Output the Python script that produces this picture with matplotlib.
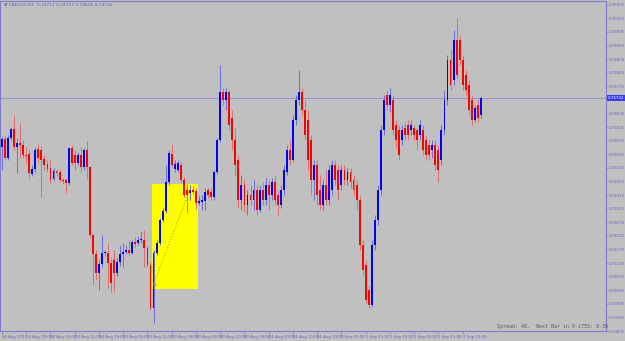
import numpy as np
import matplotlib.pyplot as plt
from matplotlib.patches import Rectangle

# CADCHF H1 bars
opens = [0.74552, 0.74581, 0.74512, 0.74585, 0.74618, 0.74552, 0.74567, 0.74559, 0.74523, 0.74526,
         0.74453, 0.74471, 0.74545, 0.74541, 0.74508, 0.74490, 0.74475, 0.74434, 0.74464, 0.74460,
         0.74431, 0.74431, 0.74420, 0.74548, 0.74523, 0.74493, 0.74523, 0.74478, 0.74541, 0.74478,
         0.74228, 0.74158, 0.74088, 0.74121, 0.74162, 0.74162, 0.74125, 0.74136, 0.74088, 0.74129,
         0.74158, 0.74166, 0.74173, 0.74162, 0.74202, 0.74199, 0.74210, 0.74210, 0.74180, 0.74118,
         0.73960, 0.74162, 0.74199, 0.74283, 0.74317, 0.74423, 0.74526, 0.74471, 0.74467, 0.74486,
         0.74431, 0.74394, 0.74383, 0.74394, 0.74390, 0.74346, 0.74350, 0.74353, 0.74394, 0.74386,
         0.74368, 0.74460, 0.74578, 0.74754, 0.74725, 0.74754, 0.74659, 0.74578, 0.74504, 0.74357,
         0.74412, 0.74339, 0.74375, 0.74357, 0.74394, 0.74320, 0.74394, 0.74357, 0.74412, 0.74375,
         0.74423, 0.74375, 0.74339, 0.74394, 0.74460, 0.74541, 0.74504, 0.74651, 0.74725, 0.74754,
         0.74688, 0.74651, 0.74578, 0.74431, 0.74486, 0.74394, 0.74339, 0.74412, 0.74357, 0.74394,
         0.74486, 0.74467, 0.74412, 0.74467, 0.74431, 0.74460, 0.74431, 0.74412, 0.74357, 0.74191,
         0.74118, 0.74026, 0.73971, 0.74191, 0.74283, 0.74394, 0.74615, 0.74743, 0.74707, 0.74725,
         0.74633, 0.74615, 0.74578, 0.74622, 0.74633, 0.74615, 0.74622, 0.74615, 0.74596, 0.74615,
         0.74578, 0.74559, 0.74541, 0.74559, 0.74541, 0.74504, 0.74615, 0.74725, 0.74872, 0.74799,
         0.74946, 0.74946, 0.74872, 0.74817, 0.74780, 0.74725, 0.74651, 0.74707, 0.74670]
highs = [0.74589, 0.74592, 0.74596, 0.74626, 0.74670, 0.74585, 0.74640, 0.74578, 0.74552, 0.74541,
         0.74486, 0.74552, 0.74563, 0.74556, 0.74523, 0.74504, 0.74504, 0.74475, 0.74471, 0.74467,
         0.74438, 0.74438, 0.74552, 0.74559, 0.74541, 0.74534, 0.74552, 0.74548, 0.74574, 0.74482,
         0.74232, 0.74173, 0.74136, 0.74228, 0.74173, 0.74199, 0.74144, 0.74173, 0.74144, 0.74191,
         0.74199, 0.74191, 0.74210, 0.74210, 0.74221, 0.74224, 0.74243, 0.74247, 0.74188, 0.74129,
         0.74173, 0.74210, 0.74291, 0.74328, 0.74486, 0.74541, 0.74563, 0.74504, 0.74504, 0.74497,
         0.74442, 0.74416, 0.74412, 0.74409, 0.74401, 0.74372, 0.74375, 0.74401, 0.74401, 0.74401,
         0.74467, 0.74585, 0.74854, 0.74769, 0.74769, 0.74762, 0.74688, 0.74622, 0.74523, 0.74449,
         0.74431, 0.74394, 0.74412, 0.74431, 0.74412, 0.74412, 0.74423, 0.74438, 0.74431, 0.74438,
         0.74449, 0.74394, 0.74412, 0.74486, 0.74559, 0.74578, 0.74670, 0.74743, 0.74835, 0.74769,
         0.74725, 0.74688, 0.74596, 0.74504, 0.74504, 0.74449, 0.74431, 0.74467, 0.74486, 0.74504,
         0.74504, 0.74486, 0.74486, 0.74486, 0.74475, 0.74475, 0.74449, 0.74431, 0.74375, 0.74210,
         0.74136, 0.74044, 0.74210, 0.74302, 0.74412, 0.74633, 0.74743, 0.74762, 0.74769, 0.74743,
         0.74651, 0.74633, 0.74633, 0.74644, 0.74651, 0.74651, 0.74633, 0.74622, 0.74651, 0.74633,
         0.74596, 0.74578, 0.74578, 0.74578, 0.74559, 0.74633, 0.74762, 0.74891, 0.74909, 0.74983,
         0.75027, 0.74964, 0.74891, 0.74835, 0.74799, 0.74743, 0.74707, 0.74725, 0.74740]
lows = [0.74467, 0.74504, 0.74504, 0.74578, 0.74541, 0.74456, 0.74512, 0.74512, 0.74493, 0.74434,
        0.74445, 0.74460, 0.74497, 0.74368, 0.74467, 0.74460, 0.74420, 0.74427, 0.74445, 0.74423,
        0.74416, 0.74383, 0.74412, 0.74486, 0.74467, 0.74486, 0.74460, 0.74467, 0.74434, 0.74221,
        0.74044, 0.74063, 0.74026, 0.74110, 0.74151, 0.74033, 0.74018, 0.74018, 0.74077, 0.74114,
        0.74110, 0.74158, 0.74155, 0.74158, 0.74184, 0.74191, 0.74199, 0.74110, 0.74110, 0.73952,
        0.73904, 0.74155, 0.74191, 0.74276, 0.74309, 0.74412, 0.74478, 0.74460, 0.74460, 0.74423,
        0.74368, 0.74309, 0.74357, 0.74379, 0.74324, 0.74339, 0.74320, 0.74320, 0.74364, 0.74357,
        0.74357, 0.74453, 0.74570, 0.74707, 0.74688, 0.74615, 0.74541, 0.74449, 0.74328, 0.74320,
        0.74313, 0.74302, 0.74339, 0.74320, 0.74302, 0.74313, 0.74339, 0.74339, 0.74320, 0.74357,
        0.74339, 0.74302, 0.74328, 0.74375, 0.74449, 0.74486, 0.74497, 0.74633, 0.74707, 0.74670,
        0.74578, 0.74467, 0.74375, 0.74357, 0.74339, 0.74320, 0.74320, 0.74339, 0.74339, 0.74375,
        0.74412, 0.74357, 0.74394, 0.74412, 0.74412, 0.74401, 0.74375, 0.74320, 0.74173, 0.74081,
        0.73978, 0.73960, 0.73963, 0.74173, 0.74265, 0.74375, 0.74596, 0.74688, 0.74681, 0.74596,
        0.74548, 0.74504, 0.74559, 0.74578, 0.74578, 0.74596, 0.74578, 0.74541, 0.74578, 0.74523,
        0.74504, 0.74504, 0.74512, 0.74467, 0.74423, 0.74486, 0.74596, 0.74707, 0.74762, 0.74780,
        0.74806, 0.74854, 0.74762, 0.74743, 0.74670, 0.74633, 0.74644, 0.74644, 0.74659]
closes = [0.74581, 0.74512, 0.74585, 0.74618, 0.74552, 0.74567, 0.74559, 0.74523, 0.74519, 0.74456,
          0.74471, 0.74541, 0.74512, 0.74504, 0.74486, 0.74471, 0.74431, 0.74464, 0.74456, 0.74431,
          0.74427, 0.74420, 0.74548, 0.74493, 0.74493, 0.74523, 0.74478, 0.74541, 0.74478, 0.74228,
          0.74158, 0.74088, 0.74121, 0.74162, 0.74166, 0.74125, 0.74052, 0.74088, 0.74129, 0.74158,
          0.74166, 0.74173, 0.74162, 0.74202, 0.74195, 0.74210, 0.74214, 0.74180, 0.74118, 0.73960,
          0.74162, 0.74199, 0.74283, 0.74317, 0.74423, 0.74530, 0.74486, 0.74490, 0.74493, 0.74431,
          0.74375, 0.74375, 0.74394, 0.74386, 0.74346, 0.74353, 0.74357, 0.74386, 0.74375, 0.74368,
          0.74460, 0.74578, 0.74754, 0.74725, 0.74754, 0.74633, 0.74578, 0.74486, 0.74357, 0.74412,
          0.74339, 0.74375, 0.74357, 0.74394, 0.74320, 0.74394, 0.74357, 0.74412, 0.74375, 0.74423,
          0.74357, 0.74339, 0.74394, 0.74467, 0.74541, 0.74504, 0.74651, 0.74725, 0.74754, 0.74688,
          0.74596, 0.74504, 0.74431, 0.74486, 0.74375, 0.74339, 0.74412, 0.74357, 0.74467, 0.74486,
          0.74431, 0.74394, 0.74467, 0.74431, 0.74460, 0.74423, 0.74394, 0.74357, 0.74191, 0.74099,
          0.73989, 0.73971, 0.74191, 0.74283, 0.74394, 0.74615, 0.74725, 0.74707, 0.74743, 0.74615,
          0.74578, 0.74523, 0.74615, 0.74596, 0.74596, 0.74633, 0.74596, 0.74578, 0.74633, 0.74541,
          0.74523, 0.74523, 0.74559, 0.74486, 0.74467, 0.74615, 0.74725, 0.74872, 0.74780, 0.74946,
          0.74817, 0.74872, 0.74780, 0.74762, 0.74688, 0.74651, 0.74696, 0.74659, 0.74732]

time_labels = ['26 Aug 2022', '26 Aug 19:00', '28 Aug 03:00', '28 Aug 11:00', '28 Aug 19:00',
               '29 Aug 03:00', '29 Aug 11:00', '29 Aug 19:00', '30 Aug 03:00', '30 Aug 11:00',
               '30 Aug 19:00', '31 Aug 03:00', '31 Aug 11:00', '31 Aug 19:00', '1 Sep 03:00',
               '1 Sep 11:00', '1 Sep 19:00', '2 Sep 03:00', '2 Sep 11:00', '2 Sep 19:00']
price_ticks = [0.75075, 0.75025, 0.74975, 0.74925, 0.74875, 0.74825, 0.74775,
               0.74675, 0.74625, 0.74575, 0.74525, 0.74475, 0.74425, 0.74375, 0.74325,
               0.74275, 0.74225, 0.74175, 0.74125, 0.74075, 0.74025, 0.73975, 0.73925, 0.73875]
bid = 0.74732
# the yellow box and the trend line drawn on the chart
box_bars = [49.4, 64.6]
box_prices = [0.74028, 0.74415]
trend_bars = [50, 62]
trend_prices = [0.74048, 0.74394]

BG = '#C0C0C0'
AXC = '#7C7CC8'
TXT = '#6060C0'

fig = plt.figure(figsize=(6.25, 3.41), dpi=100)
fig.patch.set_facecolor(BG)
ax = fig.add_axes([0, 1 - 331 / 341, 606 / 625, 330 / 341])
ax.set_facecolor(BG)

o = np.array(opens)
h = np.array(highs)
l = np.array(lows)
c = np.array(closes)
x = np.arange(len(c))
up = c >= o

wick_col = np.where(up, '#6A6AE6', '#E66A6A')
body_col = np.where(up, '#0000FF', '#FF0000')
ax.vlines(x, l, h, colors=wick_col, lw=0.7, zorder=2)
body = np.maximum(np.abs(c - o), 0.000025)
ax.bar(x, body, bottom=np.minimum(o, c), width=0.62, color=body_col, lw=0, zorder=3)

# yellow rectangle + dotted trend line
ax.add_patch(Rectangle((box_bars[0], box_prices[0]), box_bars[1] - box_bars[0],
                       box_prices[1] - box_prices[0], facecolor='#FFFF00', lw=0, zorder=1))
ax.plot(trend_bars, trend_prices, ls=(0, (1, 1.5)), color='#C8A000', lw=0.8, zorder=4)
ax.plot(trend_bars[0], trend_prices[0], 'o', ms=2, mfc='none', mec='#808080', mew=0.5, zorder=5)

# bid line
ax.axhline(bid, color='#8C8CDC', lw=0.6, zorder=1.5)

ax.set_xlim(-0.66, 199.3)
ax.set_ylim(0.73875, 0.75089)

for s in ax.spines.values():
    s.set_color(AXC)
    s.set_linewidth(0.8)

ax.yaxis.tick_right()
ax.set_yticks(price_ticks)
ax.set_yticklabels(['%.5f' % p for p in price_ticks])
ax.tick_params(axis='y', colors=AXC, labelcolor=TXT, labelsize=2.9, length=1.5, width=0.5, pad=0.5)

ax.set_xticks(np.arange(len(time_labels)) * 8)
ax.set_xticklabels(time_labels, ha='left')
ax.tick_params(axis='x', colors=AXC, labelcolor=TXT, labelsize=2.8, length=2, width=0.5, pad=1)

# current price box on the right scale
ax.text(1.003, bid, '%.5f' % bid, transform=ax.get_yaxis_transform(), fontsize=2.9,
        color='white', va='center', ha='left',
        bbox=dict(boxstyle='square,pad=0.25', facecolor='#3C3CF0', edgecolor='none'))

fig.text(0.006, 0.992, '\u25bc CADCHF,H1  0.74712 0.74757 0.74696 0.74732', fontsize=3.2,
         color=TXT, va='top', ha='left')
fig.text(0.795, 0.042, 'Spread: 48.  Next Bar in 0-1755: 8-36', fontsize=3.6,
         family='DejaVu Sans Mono', color='#5A5A5A', va='center', ha='left')

plt.savefig('out.png', dpi=100, facecolor=BG)
